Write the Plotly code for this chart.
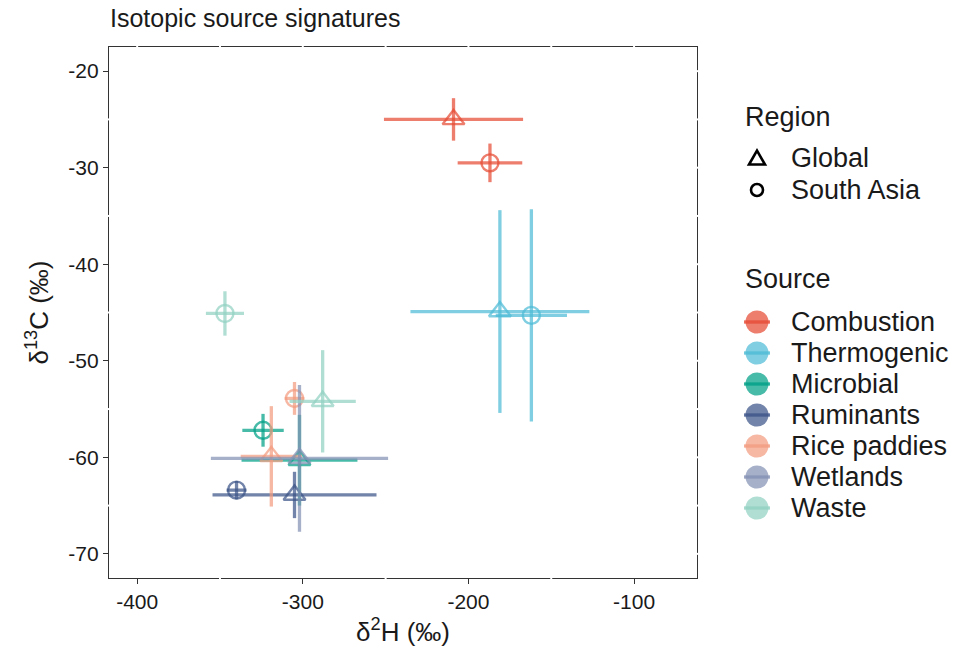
import plotly.graph_objects as go

# ---- data ----
sources = ["Combustion", "Combustion", "Thermogenic", "Thermogenic", "Microbial", "Microbial",
           "Ruminants", "Ruminants", "Rice paddies", "Rice paddies", "Wetlands", "Waste", "Waste"]
regions = ["Global", "South Asia", "Global", "South Asia", "Global", "South Asia",
           "Global", "South Asia", "Global", "South Asia", "Global", "Global", "South Asia"]
d2H = [-209, -187, -181, -162, -302, -324, -305, -340, -319, -305, -302, -288, -347]
d2H_err = [42, 19.5, 54, 21.5, 35, 12.5, 49.5, 6, 18.5, 6, 53.5, 20, 11.5]
d13C = [-25.0, -29.5, -44.9, -45.3, -60.3, -57.2, -63.9, -63.4, -59.9, -53.9, -60.1, -54.2, -45.1]
d13C_err = [2.2, 2.0, 10.5, 11.0, 4.7, 1.7, 2.4, 0.95, 5.2, 1.7, 7.6, 5.3, 2.3]

source_order = ["Combustion", "Thermogenic", "Microbial", "Ruminants", "Rice paddies", "Wetlands", "Waste"]
source_colors = ["#E64B35", "#4DBBD5", "#00A087", "#3C5488", "#F39B7F", "#8491B4", "#91D1C2"]
region_order = ["Global", "South Asia"]
region_symbols = ["triangle-up-open", "circle-open"]
region_sizes = [19, 17]

x_ticks = [-400, -300, -200, -100]
y_ticks = [-70, -60, -50, -40, -30, -20]
x_minor = [-350, -250, -150]
y_minor = [-65, -55, -45, -35, -25]


def rgba(hexc, a):
    h = hexc.lstrip("#")
    return "rgba(%d,%d,%d,%.2f)" % (int(h[0:2], 16), int(h[2:4], 16), int(h[4:6], 16), a)


FONT = "Liberation Sans, Arial, sans-serif"
ALPHA = 0.72
TXT = "#1a1a1a"

# plot-area geometry in pixels (for placing the legend in paper coordinates)
W, H = 956, 663
ML, MR, MT, MB = 109, 259, 47, 85
PW, PH = W - ML - MR, H - MT - MB


def px_x(px):
    return (px - ML) / PW


def px_y(py):
    return 1 - (py - MT) / PH


fig = go.Figure()

for i in range(len(sources)):
    c = source_colors[source_order.index(sources[i])]
    col = rgba(c, ALPHA)
    k = region_order.index(regions[i])
    fig.add_trace(go.Scatter(
        x=[d2H[i]], y=[d13C[i]], mode="markers",
        marker=dict(symbol=region_symbols[k], size=region_sizes[k], color=col,
                    line=dict(width=2.4, color=col)),
        error_x=dict(type="data", array=[d2H_err[i]], color=col, thickness=3.3, width=0),
        error_y=dict(type="data", array=[d13C_err[i]], color=col, thickness=3.3, width=0),
        showlegend=False, hoverinfo="skip",
    ))

# small white gaps in the panel border at grid positions (as in reference)
shapes = []
gap = dict(color="white", width=2)
for xv in x_minor:
    shapes.append(dict(type="line", xref="x", yref="paper", x0=xv, x1=xv, y0=-0.006, y1=0.006, line=gap, layer="above"))
for xv in x_minor + x_ticks:
    shapes.append(dict(type="line", xref="x", yref="paper", x0=xv, x1=xv, y0=0.994, y1=1.006, line=gap, layer="above"))
for yv in y_minor:
    shapes.append(dict(type="line", xref="paper", yref="y", x0=-0.004, x1=0.004, y0=yv, y1=yv, line=gap, layer="above"))
for yv in y_minor + y_ticks:
    shapes.append(dict(type="line", xref="paper", yref="y", x0=0.996, x1=1.004, y0=yv, y1=yv, line=gap, layer="above"))

# ---- custom legend (keys as shapes, labels as annotations) ----
annotations = []
KEY_X = 757
LBL_X = 789
LEG_FONT = 27


def add_label(text, px, py):
    annotations.append(dict(text=text, xref="paper", yref="paper", x=px_x(px), y=px_y(py),
                            xanchor="left", yanchor="middle", showarrow=False,
                            font=dict(family=FONT, size=LEG_FONT, color=TXT)))


add_label("Region", 743, 117)
region_key_y = [158, 190]
for r, sym, ky in zip(region_order, region_symbols, region_key_y):
    base = dict(xref="paper", yref="paper", xsizemode="pixel", ysizemode="pixel",
                xanchor=px_x(KEY_X), yanchor=px_y(ky), layer="above")
    if sym.startswith("triangle"):
        shapes.append(dict(type="path", path="M -8,-6.5 L 8,-6.5 L 0,7.5 Z",
                           line=dict(color="black", width=2.6), fillcolor="rgba(0,0,0,0)", **base))
    else:
        shapes.append(dict(type="circle", x0=-6, x1=6, y0=-6, y1=6,
                           line=dict(color="black", width=2.6), fillcolor="rgba(0,0,0,0)", **base))
    add_label(r, LBL_X, ky)

add_label("Source", 743, 279)
source_key_y = [322, 353, 384, 415, 446, 477, 508]
for s, c, ky in zip(source_order, source_colors, source_key_y):
    base = dict(xref="paper", yref="paper", xsizemode="pixel", ysizemode="pixel",
                xanchor=px_x(KEY_X), yanchor=px_y(ky), layer="above")
    shapes.append(dict(type="circle", x0=-11.5, x1=11.5, y0=-11.5, y1=11.5,
                       line=dict(width=0), fillcolor=rgba(c, 0.72), **base))
    shapes.append(dict(type="line", x0=-13, x1=13, y0=0, y1=0,
                       line=dict(color=rgba(c, 0.8), width=3.3), **base))
    add_label(s, LBL_X, ky)

axis_common = dict(
    showgrid=False, zeroline=False, showline=True, mirror=True,
    linecolor="#333333", linewidth=1.3,
    ticks="outside", ticklen=5, tickwidth=1.3, tickcolor="#333333",
    tickfont=dict(family=FONT, size=21, color=TXT),
)

fig.update_layout(
    width=W, height=H,
    margin=dict(l=ML, r=MR, t=MT, b=MB),
    plot_bgcolor="white", paper_bgcolor="white",
    font=dict(family=FONT, color=TXT),
    showlegend=False,
    title=dict(text="Isotopic source signatures", x=110 / W, xanchor="left", xref="container",
               y=1 - 18 / H, yanchor="middle", yref="container",
               font=dict(family=FONT, size=25, color=TXT)),
    xaxis=dict(range=[-417, -62], tickvals=x_ticks, ticktext=[str(v) for v in x_ticks],
               title=dict(text="δ<sup>2</sup>H (‰)", font=dict(family=FONT, size=26), standoff=10),
               **axis_common),
    yaxis=dict(range=[-72.5, -17.5], tickvals=y_ticks, ticktext=[str(v) for v in y_ticks],
               title=dict(text="δ<sup>13</sup>C (‰)", font=dict(family=FONT, size=26), standoff=12),
               **axis_common),
    shapes=shapes,
    annotations=annotations,
)

fig.write_html("out.html", post_script="document.body.style.margin='0';",
               config={"displayModeBar": False})
